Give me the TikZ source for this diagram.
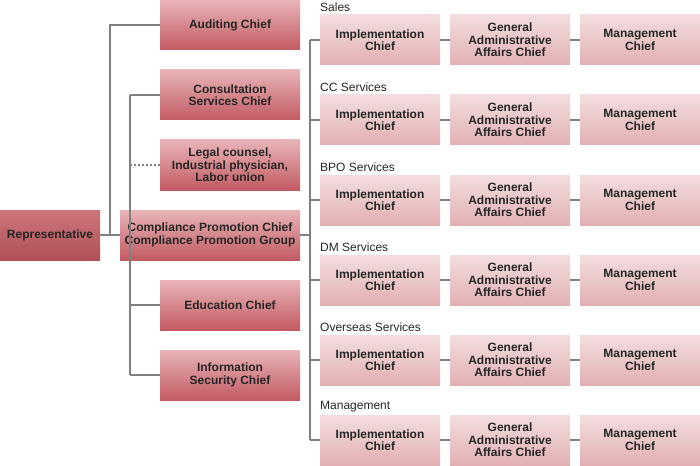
\documentclass[tikz,border=0pt]{standalone}
\usepackage{fontspec}
\setmainfont{Liberation Sans}
\definecolor{ltop}{HTML}{E8B4B8}
\definecolor{lbot}{HTML}{C25A62}
\definecolor{rtop}{HTML}{F3DDDE}
\definecolor{rbot}{HTML}{E2B0B3}
\definecolor{ln}{HTML}{808080}
\begin{document}
\begin{tikzpicture}[x=1pt,y=-1pt,
 lbox/.style={minimum width=140pt,minimum height=50pt,top color=ltop,bottom color=lbot,inner sep=0pt,align=center,font=\fontsize{12}{12.5}\selectfont\bfseries,text=black!85},
 rbox/.style={minimum width=120pt,minimum height=50pt,top color=rtop,bottom color=rbot,inner sep=0pt,align=center,font=\fontsize{12}{12.5}\selectfont\bfseries,text=black!85},
 lab/.style={anchor=west,inner sep=0pt,font=\fontsize{12}{12}\selectfont,text=black!85},
 cn/.style={draw=ln,line width=2pt}]
\useasboundingbox (0,0) rectangle (700,465);
\node[lbox,minimum width=100pt,top color=lbot!70!ltop,bottom color=lbot!90!black] (rep) at (50,235) {Representative};
\node[lbox] (aud) at (230,25) {Auditing Chief};
\node[lbox] (con) at (230,95) {Consultation\\Services Chief};
\node[lbox] (leg) at (230,165) {Legal counsel,\\Industrial physician,\\Labor union};
\node[lbox,minimum width=180pt] (cmp) at (210,235) {Compliance Promotion Chief\\Compliance Promotion Group};
\node[lbox] (edu) at (230,305) {Education Chief};
\node[lbox] (inf) at (230,375) {Information\\Security Chief};
\coordinate (j1) at (110,235);
\coordinate (j2) at (130,235);
\coordinate (j3) at (310,235);
\draw[cn] (rep.east) -- (cmp.west);
\draw[cn] (j1) |- (aud.west);
\draw[cn] (j2 |- con.west) -- (j2 |- inf.west);
\draw[cn] (j2 |- con.west) -- (con.west);
\draw[cn,dotted,line width=1.5pt] (j2 |- leg.west) -- (leg.west);
\draw[cn] (j2 |- edu.west) -- (edu.west);
\draw[cn] (j2 |- inf.west) -- (inf.west);
\draw[cn] (cmp.east) -- (j3);
\foreach \i/\t in {0/Sales,1/CC Services,2/BPO Services,3/DM Services,4/Overseas Services,5/Management}{
 \pgfmathsetmacro\yy{40+80*\i}
 \node[rbox] (a\i) at (380,\yy) {Implementation\\Chief};
 \node[rbox] (b\i) at (510,\yy) {General\\Administrative\\Affairs Chief};
 \node[rbox] (c\i) at (640,\yy) {Management\\Chief};
 \node[lab] (t\i) at (320,\yy-33) {\t};
 \draw[cn] (a\i.east) -- (b\i.west);
 \draw[cn] (b\i.east) -- (c\i.west);
 \draw[cn] (j3 |- a\i.west) -- (a\i.west);
}
\draw[cn] (j3 |- a0.west) -- (j3 |- a5.west);
\end{tikzpicture}
\end{document}
